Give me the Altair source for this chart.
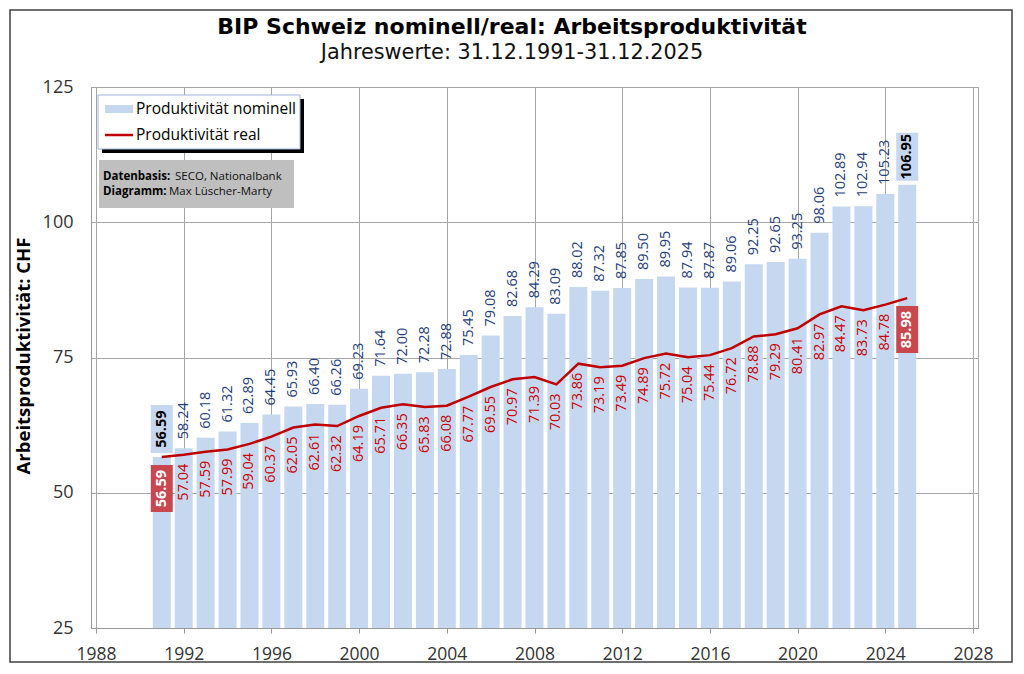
import altair as alt
import pandas as pd

years = list(range(1991, 2026))
nominal = [56.59, 58.24, 60.18, 61.32, 62.89, 64.45, 65.93, 66.40, 66.26, 69.23,
           71.64, 72.00, 72.28, 72.88, 75.45, 79.08, 82.68, 84.29, 83.09, 88.02,
           87.32, 87.85, 89.50, 89.95, 87.94, 87.87, 89.06, 92.25, 92.65, 93.25,
           98.06, 102.89, 102.94, 105.23, 106.95]
real = [56.59, 57.04, 57.59, 57.99, 59.04, 60.37, 62.05, 62.61, 62.32, 64.19,
        65.71, 66.35, 65.83, 66.08, 67.77, 69.55, 70.97, 71.39, 70.03, 73.86,
        73.19, 73.49, 74.89, 75.72, 75.04, 75.44, 76.72, 78.88, 79.29, 80.41,
        82.97, 84.47, 83.73, 84.78, 85.98]
x_ticks = [1988, 1992, 1996, 2000, 2004, 2008, 2012, 2016, 2020, 2024, 2028]
y_ticks = [25, 50, 75, 100, 125]

title = "BIP Schweiz nominell/real: Arbeitsproduktivität"
subtitle = "Jahreswerte: 31.12.1991-31.12.2025"
legend_labels = ["Produktivität nominell", "Produktivität real"]

FONT = "Open Sans"
TFONT = "DejaVu Sans"
W, H = 887, 541
LBL = 14.5

df = pd.DataFrame({"year": years, "nominal": nominal, "real": real})
df["edge"] = (df["year"] == years[0]) | (df["year"] == years[-1])
df["nom_lbl"] = df["nominal"].map(lambda v: f"{v:.2f}")
df["real_lbl"] = df["real"].map(lambda v: f"{v:.2f}")

dummy = pd.DataFrame({"d": [0]})

xs = alt.Scale(domain=[1988, 2028], nice=False, zero=False)
ys = alt.Scale(domain=[25, 125], nice=False, zero=False)

X = alt.X("year:Q", scale=xs,
          axis=alt.Axis(values=x_ticks, format="d", title=None, labelFontSize=17.5,
                        labelColor="#333333", labelFont=FONT, tickSize=5,
                        tickColor="#999999", labelPadding=12, domainColor="#999999",
                        grid=True, gridColor="#a6a6a6", labelFlush=False))
Y = alt.Y("nominal:Q", scale=ys,
          axis=alt.Axis(values=y_ticks, title="Arbeitsproduktivität: CHF",
                        titleFontSize=18.5, titleFont=FONT, titleFontWeight="bold",
                        titleColor="#000000", titleX=-68, titleY=H / 2 - 2,
                        titleAngle=270, titleBaseline="middle", titleAlign="center",
                        labelFontSize=18, labelColor="#333333", labelFont=FONT,
                        tickSize=0, labelPadding=18, domainColor="#999999",
                        grid=True, gridColor="#a6a6a6"))

base = alt.Chart(df)

border = alt.Chart(dummy).mark_rect(fill=None, stroke="#404040", strokeWidth=1.5).encode(
    x=alt.value(-81), x2=alt.value(W + 34), y=alt.value(-77), y2=alt.value(H + 34))

bars = base.mark_bar(color="#c5d8f0", size=18).encode(x=X, y=Y, y2=alt.datum(25))

line = base.mark_line(color="#c00000", strokeWidth=2.5).encode(
    x=alt.X("year:Q", scale=xs), y=alt.Y("real:Q", scale=ys))

nom_labels = base.transform_filter("!datum.edge").mark_text(
    angle=270, align="left", baseline="middle", dx=9, fontSize=LBL, font=FONT,
    color="#1f4079").encode(x=alt.X("year:Q", scale=xs), y=alt.Y("nominal:Q", scale=ys),
                             text="nom_lbl:N")

real_labels = base.transform_filter("!datum.edge").mark_text(
    angle=270, align="right", baseline="middle", dx=-9, fontSize=LBL, font=FONT,
    color="#cc0000").encode(x=alt.X("year:Q", scale=xs), y=alt.Y("real:Q", scale=ys),
                             text="real_lbl:N")

edge = base.transform_filter("datum.edge")
nom_box = edge.mark_rect(color="#c5d8f0", xOffset=-11, x2Offset=11, yOffset=-4,
                         y2Offset=-52).encode(
    x=alt.X("year:Q", scale=xs), x2="year:Q",
    y=alt.Y("nominal:Q", scale=ys), y2="nominal:Q")
nom_box_txt = edge.mark_text(angle=270, align="center", baseline="middle", dx=28,
                             fontSize=LBL, font=FONT, fontWeight="bold",
                             color="#000000").encode(
    x=alt.X("year:Q", scale=xs), y=alt.Y("nominal:Q", scale=ys), text="nom_lbl:N")
real_box = edge.mark_rect(color="#c9474f", xOffset=-11, x2Offset=11, yOffset=8,
                          y2Offset=55).encode(
    x=alt.X("year:Q", scale=xs), x2="year:Q",
    y=alt.Y("real:Q", scale=ys), y2="real:Q")
real_box_txt = edge.mark_text(angle=270, align="center", baseline="middle", dx=-31.5,
                              fontSize=LBL, font=FONT, fontWeight="bold",
                              color="#ffffff").encode(
    x=alt.X("year:Q", scale=xs), y=alt.Y("real:Q", scale=ys), text="real_lbl:N")

# legend
lg_shadow = alt.Chart(dummy).mark_rect(color="#000000").encode(
    x=alt.value(11), x2=alt.value(213), y=alt.value(12), y2=alt.value(66))
lg_box = alt.Chart(dummy).mark_rect(fill="#ffffff", stroke="#9fb4d8", strokeWidth=1).encode(
    x=alt.value(7), x2=alt.value(209), y=alt.value(8), y2=alt.value(62))
lg_sw1 = alt.Chart(dummy).mark_rect(color="#c5d8f0").encode(
    x=alt.value(14), x2=alt.value(42), y=alt.value(18), y2=alt.value(26))
lg_sw2 = alt.Chart(dummy).mark_rule(color="#c00000", strokeWidth=2.5).encode(
    x=alt.value(14), x2=alt.value(42), y=alt.value(48))
lg_t1 = alt.Chart(dummy).mark_text(align="left", baseline="middle", fontSize=15.5,
                                   font=FONT, color="#000000").encode(
    x=alt.value(45), y=alt.value(22), text=alt.value(legend_labels[0]))
lg_t2 = alt.Chart(dummy).mark_text(align="left", baseline="middle", fontSize=15.5,
                                   font=FONT, color="#000000").encode(
    x=alt.value(45), y=alt.value(48), text=alt.value(legend_labels[1]))

# info box
info_box = alt.Chart(dummy).mark_rect(color="#bfbfbf").encode(
    x=alt.value(8), x2=alt.value(203), y=alt.value(73), y2=alt.value(121))
info_b1 = alt.Chart(dummy).mark_text(align="left", baseline="middle", fontSize=11.5,
                                     font=FONT, fontWeight="bold", color="#000").encode(
    x=alt.value(12), y=alt.value(90), text=alt.value("Datenbasis:"))
info_n1 = alt.Chart(dummy).mark_text(align="left", baseline="middle", fontSize=11.5,
                                     font=FONT, color="#111").encode(
    x=alt.value(84), y=alt.value(90), text=alt.value("SECO, Nationalbank"))
info_b2 = alt.Chart(dummy).mark_text(align="left", baseline="middle", fontSize=11.5,
                                     font=FONT, fontWeight="bold", color="#000").encode(
    x=alt.value(12), y=alt.value(105), text=alt.value("Diagramm:"))
info_n2 = alt.Chart(dummy).mark_text(align="left", baseline="middle", fontSize=11.5,
                                     font=FONT, color="#111").encode(
    x=alt.value(78), y=alt.value(105), text=alt.value("Max Lüscher-Marty"))

t1 = alt.Chart(dummy).mark_text(align="center", baseline="middle", fontSize=22,
                                font=TFONT, fontWeight="bold", color="#000").encode(
    x=alt.value(421), y=alt.value(-60), text=alt.value(title))
t2 = alt.Chart(dummy).mark_text(align="center", baseline="middle", fontSize=20.8,
                                font=TFONT, color="#111").encode(
    x=alt.value(421), y=alt.value(-34), text=alt.value(subtitle))

chart = alt.layer(
    border, bars, line, nom_labels, real_labels, nom_box, nom_box_txt, real_box,
    real_box_txt, lg_shadow, lg_box, lg_sw1, lg_sw2, lg_t1, lg_t2, info_box, info_b1,
    info_n1, info_b2, info_n2, t1, t2
).properties(
    width=W, height=H, autosize=alt.AutoSizeParams(type="none"),
    padding={"left": 83, "top": 79, "right": 36, "bottom": 36},
    background="#ffffff"
).configure_view(stroke="#a6a6a6", strokeWidth=1)

chart.save("out.html", embed_options={"renderer": "svg", "actions": False})
